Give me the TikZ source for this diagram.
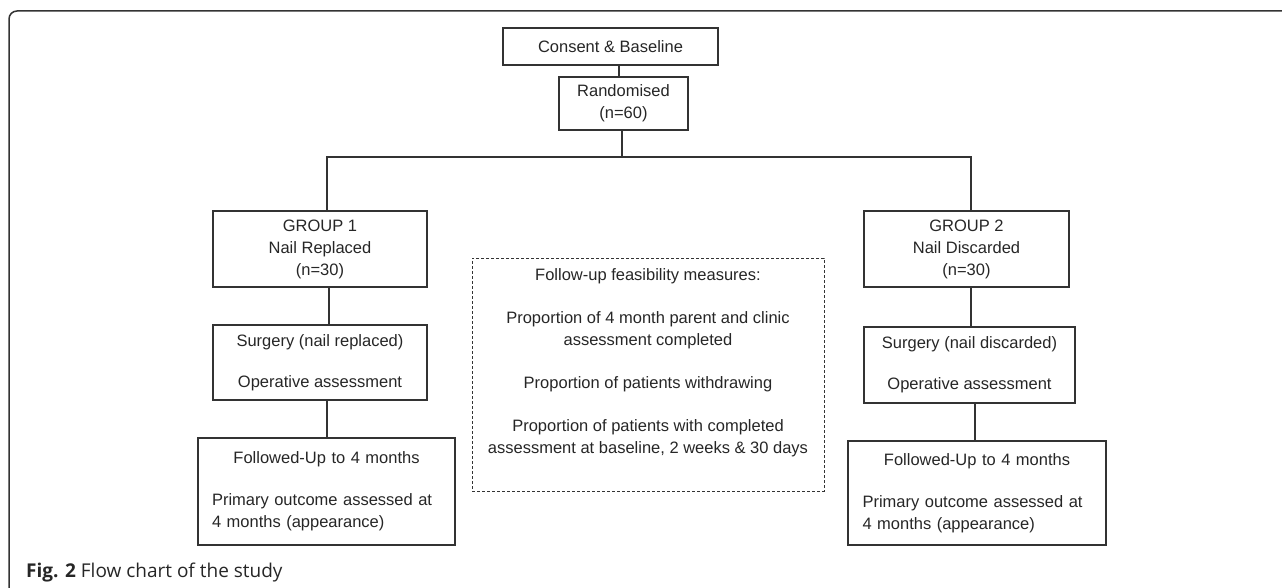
\documentclass[tikz,border=0pt]{standalone}
\usepackage{fontspec}
\setmainfont{Liberation Sans}
\newfontfamily\capfont{Open Sans}
\begin{document}
\begin{tikzpicture}[x=1pt,y=-1pt,
  every node/.style={font=\fontsize{16.5}{22}\selectfont, text=black!85},
  box/.style={draw=black!80, line width=1.3pt, inner sep=0pt, align=center},
  followbox/.style={box, minimum height=104pt, text width=229pt, align=left},
  link/.style={draw=black!80, line width=1.3pt}]
\useasboundingbox (0,0) rectangle (1282,588);
\draw[line width=1.5pt, black!80, rounded corners=8pt] (9,588) -- (9,11) -- (1282,11);

\node[box, minimum width=215pt, minimum height=37pt] (consent) at (610.5,46.5) {Consent \& Baseline};
\node[box, minimum width=129pt, minimum height=53pt] (rand) at (623.5,103.5) {Randomised\\(n=60)};

\node[box, minimum width=214pt, minimum height=76pt] (g1) at (320,249) {GROUP 1\\Nail Replaced\\(n=30)};
\node[box, minimum width=214pt, minimum height=75pt] (s1) at (320,362.5) {Surgery (nail replaced)\\[19pt]Operative assessment};
\node[followbox, minimum width=257pt, minimum height=107pt] (f1) at (326.5,491.5)
  {{\centering Followed-Up to 4 months\par}\vspace{20pt}Primary outcome assessed at\\4 months (appearance)};

\node[box, minimum width=205pt, minimum height=76pt] (g2) at (966.5,249) {GROUP 2\\Nail Discarded\\(n=30)};
\node[box, minimum width=211pt, minimum height=76pt] (s2) at (969.5,365) {Surgery (nail discarded)\\[19pt]Operative assessment};
\node[followbox, minimum width=258pt] (f2) at (977,493)
  {{\centering Followed-Up to 4 months\par}\vspace{20pt}Primary outcome assessed at\\4 months (appearance)};

\node[box, line width=1pt, dash pattern=on 3pt off 2pt] (meas) at (648,374.5)
  {\parbox[c][233pt][t]{352pt}{\centering\vspace*{7pt}\strut Follow-up feasibility measures:\\[21pt]
   Proportion of 4 month parent and clinic\\assessment completed\\[21pt]
   Proportion of patients withdrawing\\[21pt]
   Proportion of patients with completed\\assessment at baseline, 2 weeks \& 30 days}};

\coordinate (bus) at (622,157);
\coordinate (b1) at (327,157);
\coordinate (b2) at (971,157);
\draw[link] ([xshift=-4.5pt]rand.north) -- ([xshift=-4.5pt]rand.north |- consent.south);
\draw[link] ([xshift=-1.5pt]rand.south) -- (bus);
\draw[link] (b1 |- g1.north) -- (b1) -- (b2) -- (b2 |- g2.north);
\draw[link] ([xshift=9pt]g1.south) -- ([xshift=9pt]s1.north);
\draw[link] ([xshift=0.5pt]f1.north |- s1.south) -- ([xshift=0.5pt]f1.north);
\draw[link] (g2.south -| b2) -- (s2.north -| b2);
\draw[link] ([xshift=5.5pt]s2.south) -- ([xshift=5.5pt]s2.south |- f2.north);

\node[anchor=base west, font=\capfont\fontsize{19}{22}\selectfont, text=black!85, inner sep=0pt] (cap) at (26,577)
  {\textbf{Fig. 2} Flow chart of the study};
\end{tikzpicture}
\end{document}
